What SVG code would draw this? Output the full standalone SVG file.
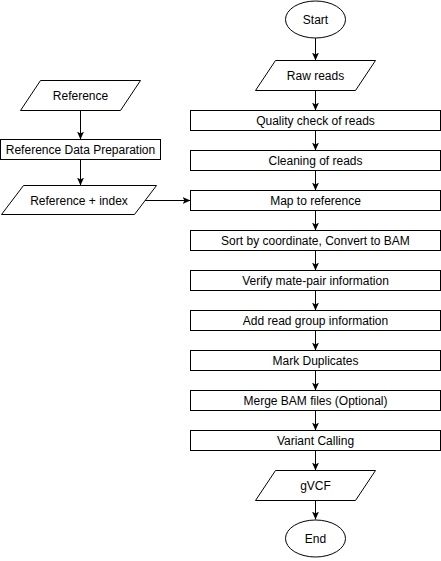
<svg xmlns="http://www.w3.org/2000/svg" width="441" height="561" viewBox="0 0 441 561">
<style>
.s{fill:#fff;stroke:#000;stroke-width:1}
.t{font-family:"Liberation Sans",Arial,sans-serif;font-size:12px;fill:#000;text-anchor:middle}
.c{fill:none;stroke:#000;stroke-width:1;marker-end:url(#a)}
</style>
<defs>
<marker id="a" markerUnits="userSpaceOnUse" viewBox="0 0 8 8" markerWidth="8" markerHeight="8" refX="8" refY="4" orient="auto">
<path d="M0,0.5 L8,4 L0,7.5 L2,4 z" fill="#000"/>
</marker>
</defs>
<rect width="441" height="561" fill="#fff"/>
<g id="connectors">
<path class="c" d="M315.5,38 V60.5"/>
<path class="c" d="M315.5,90.5 V110.5"/>
<path class="c" d="M315.5,130.5 V150.5"/>
<path class="c" d="M315.5,170.5 V190.5"/>
<path class="c" d="M315.5,210.5 V230.5"/>
<path class="c" d="M315.5,250.5 V270.5"/>
<path class="c" d="M315.5,290.5 V310.5"/>
<path class="c" d="M315.5,330.5 V350.5"/>
<path class="c" d="M315.5,370.5 V390.5"/>
<path class="c" d="M315.5,410.5 V430.5"/>
<path class="c" d="M315.5,450.5 V470.5"/>
<path class="c" d="M315.5,500.5 V519.5"/>
<path class="c" d="M80.5,110.5 V139.5"/>
<path class="c" d="M80.5,159.5 V185.5"/>
<path class="c" d="M145,200.5 H190.5"/>
</g>
<g id="start"><ellipse class="s" cx="315.5" cy="19.5" rx="30" ry="18.5"/><text class="t" x="315.5" y="23.5">Start</text></g>
<g id="raw-reads"><polygon class="s" points="275.5,60.5 375.5,60.5 355.5,90.5 255.5,90.5"/><text class="t" x="315.5" y="79.5">Raw reads</text></g>
<g id="quality"><rect class="s" x="190.5" y="110.5" width="250" height="20"/><text class="t" x="315.5" y="124.5">Quality check of reads</text></g>
<g id="cleaning"><rect class="s" x="190.5" y="150.5" width="250" height="20"/><text class="t" x="315.5" y="164.5">Cleaning of reads</text></g>
<g id="map"><rect class="s" x="190.5" y="190.5" width="250" height="20"/><text class="t" x="315.5" y="204.5">Map to reference</text></g>
<g id="sort"><rect class="s" x="190.5" y="230.5" width="250" height="20"/><text class="t" x="315.5" y="244.5">Sort by coordinate, Convert to BAM</text></g>
<g id="verify"><rect class="s" x="190.5" y="270.5" width="250" height="20"/><text class="t" x="315.5" y="284.5">Verify mate-pair information</text></g>
<g id="read-group"><rect class="s" x="190.5" y="310.5" width="250" height="20"/><text class="t" x="315.5" y="324.5">Add read group information</text></g>
<g id="mark-dup"><rect class="s" x="190.5" y="350.5" width="250" height="20"/><text class="t" x="315.5" y="364.5">Mark Duplicates</text></g>
<g id="merge"><rect class="s" x="190.5" y="390.5" width="250" height="20"/><text class="t" x="315.5" y="404.5">Merge BAM files (Optional)</text></g>
<g id="variant"><rect class="s" x="190.5" y="430.5" width="250" height="20"/><text class="t" x="315.5" y="444.5">Variant Calling</text></g>
<g id="gvcf"><polygon class="s" points="275.5,470.5 375.5,470.5 355.5,500.5 255.5,500.5"/><text class="t" x="315.5" y="489.5">gVCF</text></g>
<g id="end"><ellipse class="s" cx="315.5" cy="538.5" rx="30" ry="18.5"/><text class="t" x="315.5" y="542.5">End</text></g>
<g id="reference"><polygon class="s" points="40.5,80.5 140.5,80.5 120.5,110.5 20.5,110.5"/><text class="t" x="80.5" y="99.5">Reference</text></g>
<g id="ref-prep"><rect class="s" x="0.5" y="139.5" width="160" height="20"/><text class="t" x="80.5" y="153.5">Reference Data Preparation</text></g>
<g id="ref-index"><polygon class="s" points="23.5,185.5 156.5,185.5 134.5,214.5 1.5,214.5"/><text class="t" x="79" y="204.5">Reference + index</text></g>
</svg>
